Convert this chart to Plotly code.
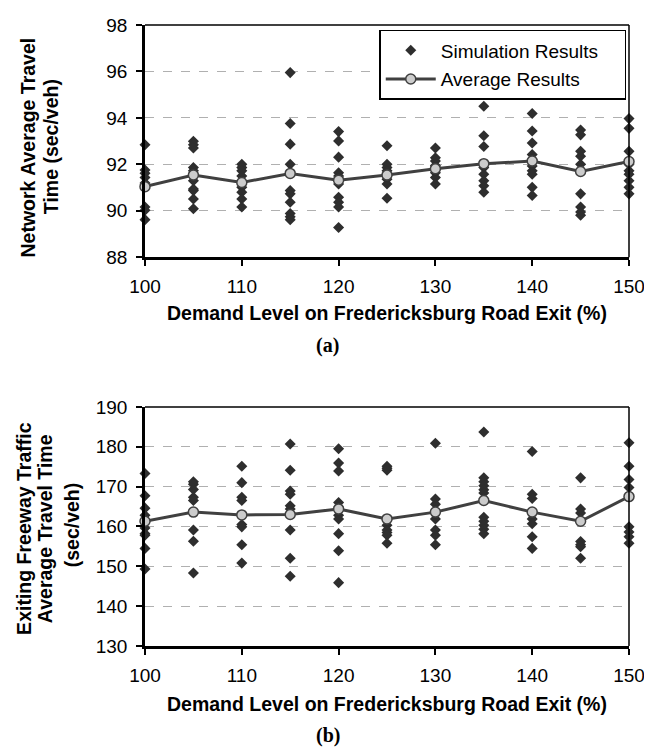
import plotly.graph_objects as go

demand = [100, 105, 110, 115, 120, 125, 130, 135, 140, 145, 150]

# (a) Network average travel time (sec/veh) - individual simulation runs
net_sim = [
    [92.84, 91.76, 91.62, 91.43, 91.20, 90.16, 90.02, 89.62],
    [92.99, 92.84, 92.70, 91.86, 91.72, 91.29, 90.94, 90.87, 90.51, 90.09],
    [92.00, 91.86, 91.72, 91.50, 91.01, 90.80, 90.51, 90.16],
    [95.95, 93.76, 92.87, 92.00, 90.87, 90.73, 90.37, 89.88, 89.74, 89.62],
    [93.41, 93.01, 92.31, 91.64, 91.50, 91.15, 90.58, 90.37, 90.16, 89.28],
    [92.80, 92.00, 91.86, 91.72, 91.36, 91.15, 90.54],
    [92.70, 92.28, 92.14, 91.95, 91.64, 91.43, 91.15],
    [94.50, 93.23, 92.77, 91.86, 91.57, 91.29, 91.08, 90.80],
    [94.19, 93.44, 92.92, 92.42, 92.20, 91.93, 91.72, 91.57, 91.01, 90.66],
    [93.48, 93.27, 92.56, 92.35, 92.00, 90.73, 90.16, 89.95, 89.81],
    [93.97, 93.55, 92.56, 92.00, 91.72, 91.57, 91.29, 91.01, 90.73],
]
net_avg = [91.04, 91.54, 91.22, 91.61, 91.32, 91.54, 91.81, 92.03, 92.14, 91.69, 92.12]

# (b) Exiting freeway traffic average travel time (sec/veh)
exit_sim = [
    [173.3, 167.7, 164.6, 162.8, 159.6, 158.2, 157.8, 154.5, 149.3],
    [171.2, 170.6, 169.3, 167.3, 166.5, 159.1, 156.3, 148.3],
    [175.1, 171.0, 167.3, 166.5, 160.5, 159.9, 155.4, 150.8],
    [180.7, 174.1, 168.9, 168.1, 165.2, 164.4, 159.1, 152.0, 147.5],
    [179.5, 175.9, 173.9, 166.0, 162.8, 161.9, 158.2, 153.9, 145.9],
    [175.1, 174.6, 174.1, 160.3, 159.1, 158.5, 157.8, 155.8],
    [180.9, 166.9, 165.6, 161.9, 159.1, 157.8, 155.4],
    [183.7, 172.2, 171.2, 170.2, 169.2, 168.4, 162.3, 161.3, 160.3, 159.3, 158.2],
    [178.8, 168.1, 167.0, 161.9, 160.7, 157.4, 154.5],
    [172.2, 164.4, 163.4, 156.2, 155.4, 154.9, 152.0],
    [181.0, 175.1, 171.8, 169.8, 159.9, 158.6, 157.4, 155.8],
]
exit_avg = [161.3, 163.6, 162.9, 163.0, 164.4, 161.9, 163.6, 166.5, 163.6, 161.3, 167.5]

x_ticks = [100, 110, 120, 130, 140, 150]
net_ticks = [88, 90, 92, 94, 96, 98]
exit_ticks = [130, 140, 150, 160, 170, 180, 190]

series_names = ["Simulation Results", "Average Results"]
x_title = "Demand Level on Fredericksburg Road Exit (%)"
net_title_lines = ["Network Average Travel", "Time (sec/veh)"]
exit_title_lines = ["Exiting Freeway Traffic", "Average Travel Time", "(sec/veh)"]


def flatten(xs, groups):
    fx, fy = [], []
    for x, g in zip(xs, groups):
        for v in g:
            fx.append(x)
            fy.append(v)
    return fx, fy


SIM_COLOR = "#2e2e2e"
LINE_COLOR = "#404040"
AVG_FILL = "#cccccc"
FONT = "Liberation Sans, Arial, sans-serif"
PAD = "\u00a0" * 4  # right padding inside the legend box

fig = go.Figure()

nx, ny = flatten(demand, net_sim)
ex, ey = flatten(demand, exit_sim)

sim_marker = dict(symbol="diamond", size=8.5, color=SIM_COLOR)
avg_marker = dict(symbol="circle", size=10, color=AVG_FILL, line=dict(color=LINE_COLOR, width=1.5))

fig.add_trace(go.Scatter(x=nx, y=ny, mode="markers", marker=sim_marker, name=series_names[0] + PAD,
                         xaxis="x", yaxis="y", cliponaxis=False, legendgroup="a"))
fig.add_trace(go.Scatter(x=demand, y=net_avg, mode="lines+markers", marker=avg_marker,
                         line=dict(color=LINE_COLOR, width=3), name=series_names[1],
                         xaxis="x", yaxis="y", cliponaxis=False, legendgroup="b"))
fig.add_trace(go.Scatter(x=ex, y=ey, mode="markers", marker=sim_marker, showlegend=False,
                         xaxis="x2", yaxis="y2", cliponaxis=False))
fig.add_trace(go.Scatter(x=demand, y=exit_avg, mode="lines+markers", marker=avg_marker,
                         line=dict(color=LINE_COLOR, width=3), showlegend=False,
                         xaxis="x2", yaxis="y2", cliponaxis=False))

xcommon = dict(range=[100, 150], tickvals=x_ticks, showline=True, linecolor="black", linewidth=2.5,
               ticks="outside", ticklen=6, tickwidth=1.5, tickcolor="black", showgrid=False,
               zeroline=False, tickfont=dict(size=19, color="black", family=FONT), ticklabelstandoff=4)
ycommon = dict(showline=True, linecolor="black", linewidth=2.5, ticks="outside", ticklen=6,
               tickwidth=1.5, tickcolor="black", showgrid=True, gridcolor="#b0b0b0", gridwidth=1,
               griddash="dash", zeroline=False, tickfont=dict(size=19, color="black", family=FONT),
               ticklabelstandoff=5)

fig.update_layout(
    width=644, height=742,
    margin=dict(l=137, r=17, t=7, b=104),
    paper_bgcolor="white", plot_bgcolor="white",
    font=dict(family=FONT, color="black"),
    xaxis=dict(domain=[0, 1], anchor="y", **xcommon),
    yaxis=dict(domain=[0.626, 1], anchor="x", range=[88, 98], tickvals=net_ticks, **ycommon),
    xaxis2=dict(domain=[0, 1], anchor="y2", **xcommon),
    yaxis2=dict(domain=[0, 0.385], anchor="x2", range=[130, 190], tickvals=exit_ticks, **ycommon),
    showlegend=True,
    legend=dict(x=0.484, y=0.992, xanchor="left", yanchor="top", bgcolor="white",
                bordercolor="black", borderwidth=1.5, font=dict(size=19, family=FONT, color="black"),
                tracegroupgap=1, itemwidth=50),
)

# thin top/right frame lines
for xr, yr in (("x domain", "y domain"), ("x2 domain", "y2 domain")):
    fig.add_shape(type="line", xref=xr, yref=yr, x0=0, x1=1, y0=1, y1=1, line=dict(color="black", width=1.5))
    fig.add_shape(type="line", xref=xr, yref=yr, x0=1, x1=1, y0=0, y1=1, line=dict(color="black", width=1.5))

ann_font = dict(family=FONT, size=19.5, color="black")
for yy in (0.5357, -0.0935):
    fig.add_annotation(text="<b>" + x_title + "</b>", xref="paper", yref="paper", x=0.5, y=yy,
                       showarrow=False, xanchor="center", yanchor="middle", font=ann_font)
for line, xx in zip(net_title_lines, (-0.2408, -0.1939)):
    fig.add_annotation(text="<b>" + line + "</b>", xref="paper", yref="paper", x=xx, y=0.8035,
                       showarrow=False, xanchor="center", yanchor="middle", textangle=-90, font=ann_font)
for line, xx, yy in zip(exit_title_lines, (-0.25, -0.2061, -0.15), (0.1886, 0.1886, 0.195)):
    fig.add_annotation(text="<b>" + line + "</b>", xref="paper", yref="paper", x=xx, y=yy,
                       showarrow=False, xanchor="center", yanchor="middle", textangle=-90, font=ann_font)
serif = dict(family="Liberation Serif, Times New Roman, serif", size=20, color="black")
fig.add_annotation(text="<b>(a)</b>", xref="paper", yref="paper", x=0.3776, y=0.4834,
                   showarrow=False, xanchor="center", yanchor="middle", font=serif)
fig.add_annotation(text="<b>(b)</b>", xref="paper", yref="paper", x=0.3776, y=-0.1442,
                   showarrow=False, xanchor="center", yanchor="middle", font=serif)

fig.write_html("out.html")
